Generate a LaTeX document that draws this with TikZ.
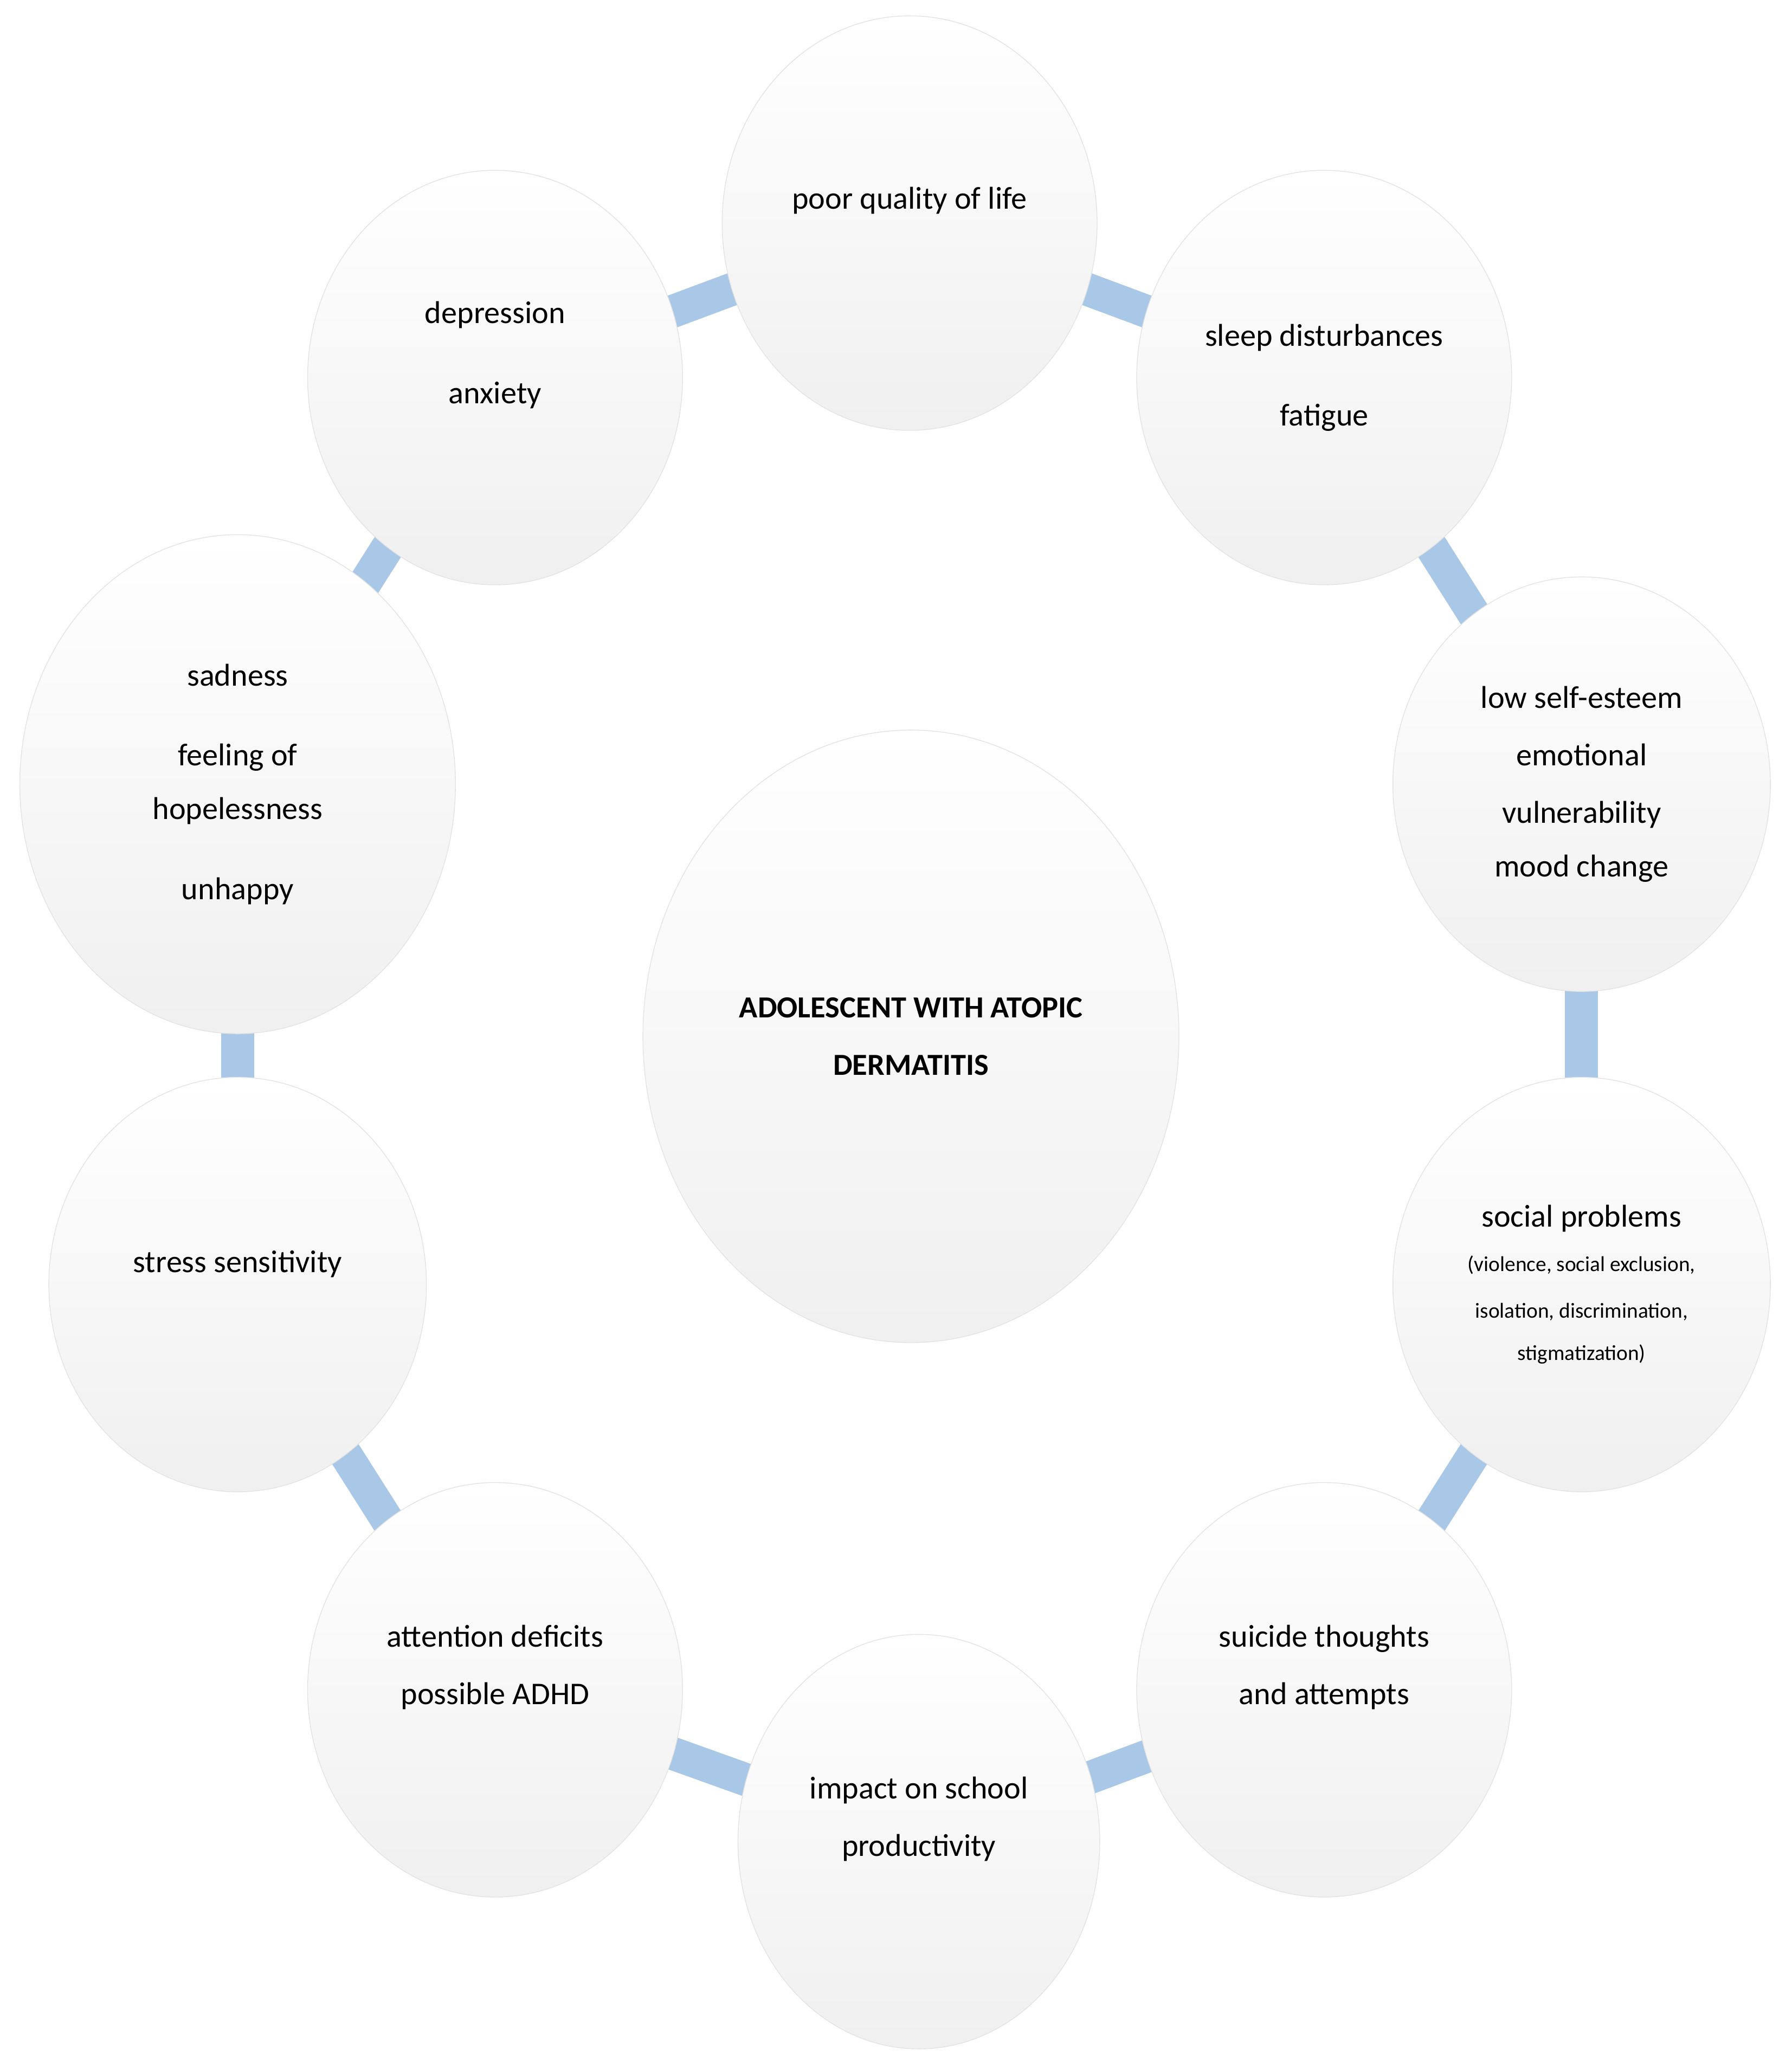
\documentclass[tikz,border=0pt]{standalone}
\usepackage{fontspec}
\setmainfont{Carlito}
\usetikzlibrary{shapes.geometric,backgrounds}
\definecolor{conn}{HTML}{A9C8E8}
\begin{document}
\begin{tikzpicture}[x=0.25mm,y=-0.25mm,
  circ/.style={ellipse,draw=gray!22,line width=0.4pt,top color=white,bottom color=gray!12,
     minimum width=284*0.25mm,minimum height=314*0.25mm,inner sep=0pt,align=center,
     font=\fontsize{17}{19}\selectfont},
  link/.style={conn,line width=6.25mm}]
\useasboundingbox (0,0) rectangle (1357,1568);
\node[circ,minimum width=406*0.25mm,minimum height=464*0.25mm,font=\bfseries\fontsize{16.5}{19}\selectfont] (c) at (690,785) {ADOLESCENT WITH ATOPIC\\[12pt]DERMATITIS};
\node[circ] (top) at (689,169) {poor quality of life\\[8pt]\mbox{}};
\node[circ] (sleep) at (1003,286) {sleep disturbances\\[24pt]fatigue};
\node[circ,minimum width=286*0.25mm] (self) at (1198,594) {low self-esteem\\[12pt]emotional\\[12pt]vulnerability\\[10pt]mood change};
\node[circ,minimum width=286*0.25mm] (soc) at (1198,973) {social problems\\[5pt]{\fontsize{11.5}{13}\selectfont (violence, social exclusion,}\\[6pt]{\fontsize{11.5}{13}\selectfont isolation, discrimination,}\\[4pt]{\fontsize{11.5}{13}\selectfont stigmatization)}};
\node[circ] (sui) at (1003,1280) {suicide thoughts\\[12pt]and attempts\\[8pt]\mbox{}};
\node[circ,minimum width=274*0.25mm] (imp) at (696,1395) {impact on school\\[12pt]productivity\\[8pt]\mbox{}};
\node[circ] (att) at (375,1280) {attention deficits\\[12pt]possible ADHD\\[8pt]\mbox{}};
\node[circ,minimum width=286*0.25mm] (str) at (180,973) {stress sensitivity\\[6pt]\mbox{}};
\node[circ,minimum width=330*0.25mm,minimum height=378*0.25mm] (sad) at (180,594) {sadness\\[24pt]feeling of\\[10pt]hopelessness\\[24pt]unhappy};
\node[circ] (dep) at (375,286) {depression\\[24pt]anxiety\\[8pt]\mbox{}};
\begin{scope}[on background layer]
\foreach \a/\b in {top/sleep,sleep/self,self/soc,soc/sui,sui/imp,imp/att,att/str,str/sad,sad/dep,dep/top}
  \draw[link] (\a.center) -- (\b.center);
\end{scope}
\end{tikzpicture}
\end{document}
